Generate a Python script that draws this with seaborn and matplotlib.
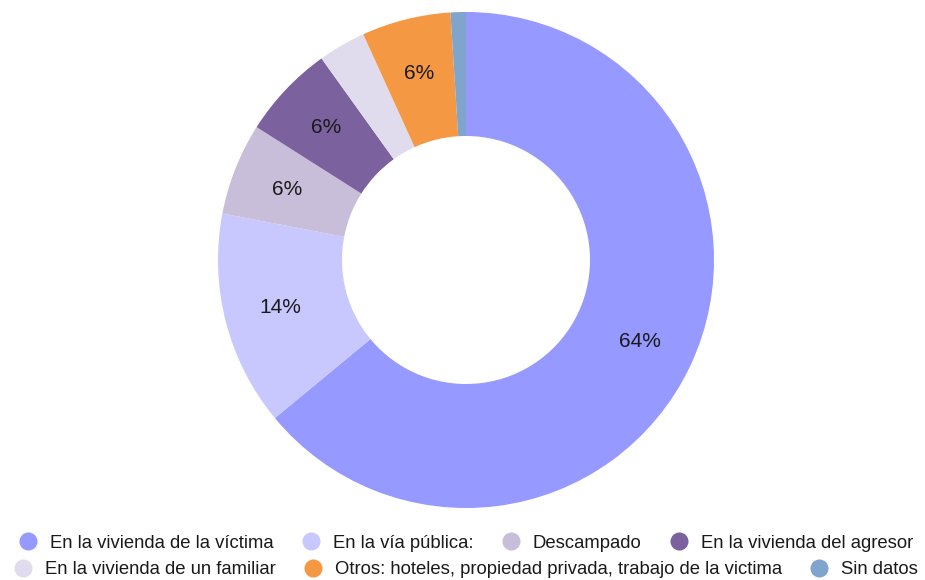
import matplotlib
matplotlib.use("Agg")
import matplotlib.pyplot as plt
from matplotlib.lines import Line2D
import seaborn as sns

# Data
categories = [
    "En la vivienda de la víctima",
    "En la vía pública:",
    "Descampado",
    "En la vivienda del agresor",
    "En la vivienda de un familiar",
    "Otros: hoteles, propiedad privada, trabajo de la victima",
    "Sin datos",
]
shares = [64, 14, 6, 6.1, 3.1, 5.8, 1.0]
colors = ["#9699FF", "#C8C8FF", "#C8BED9", "#7B619E", "#E0DCED", "#F59844", "#7FA5CC"]

sns.set_theme(style="white")
plt.rcParams["font.family"] = ["Liberation Sans", "DejaVu Sans"]

fig = plt.figure(figsize=(9.25, 5.8), dpi=100)
W, H = 925, 580
cx, cy, r = 466, 260, 248
ax = fig.add_axes([(cx - r) / W, (H - cy - r) / H, 2 * r / W, 2 * r / H])

wedges, texts, autotexts = ax.pie(
    shares,
    colors=colors,
    startangle=90,
    counterclock=False,
    autopct=lambda p: f"{p:.0f}%" if p >= 5 else "",
    pctdistance=0.775,
    wedgeprops=dict(width=0.5, linewidth=0),
    textprops=dict(fontsize=15, color="#1a1a1a"),
)
ax.set_xlim(-1, 1)
ax.set_ylim(-1, 1)
ax.set_aspect("equal")
ax.axis("off")

def handle(c):
    return Line2D([], [], marker="o", linestyle="none", markersize=13,
                  markerfacecolor=c, markeredgewidth=0)

# two legend rows, each centred under the donut
rows = [(0, 4, 543), (4, 7, 570)]
for a, b, y in rows:
    leg = fig.legend(
        [handle(c) for c in colors[a:b]],
        categories[a:b],
        loc="center",
        bbox_to_anchor=(466 / W, 1 - y / H),
        ncol=b - a,
        frameon=False,
        fontsize=13.3,
        handlelength=1.0,
        handletextpad=0.7,
        columnspacing=1.5,
        borderpad=0,
        borderaxespad=0,
    )
    for t in leg.get_texts():
        t.set_color("#1a1a1a")

fig.savefig("out.png", dpi=100)
